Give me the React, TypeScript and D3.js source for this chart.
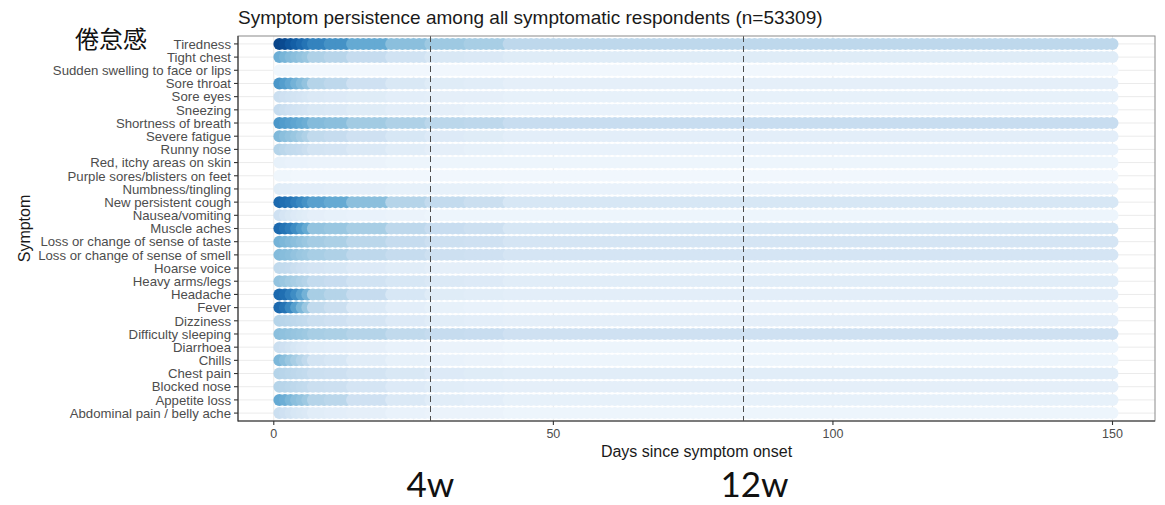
import React from "react";
import * as d3 from "d3";

// Symptoms, top to bottom as listed on the y axis
const SYMPTOMS = [
  "Tiredness",
  "Tight chest",
  "Sudden swelling to face or lips",
  "Sore throat",
  "Sore eyes",
  "Sneezing",
  "Shortness of breath",
  "Severe fatigue",
  "Runny nose",
  "Red, itchy areas on skin",
  "Purple sores/blisters on feet",
  "Numbness/tingling",
  "New persistent cough",
  "Nausea/vomiting",
  "Muscle aches",
  "Loss or change of sense of taste",
  "Loss or change of sense of smell",
  "Hoarse voice",
  "Heavy arms/legs",
  "Headache",
  "Fever",
  "Dizziness",
  "Difficulty sleeping",
  "Diarrhoea",
  "Chills",
  "Chest pain",
  "Blocked nose",
  "Appetite loss",
  "Abdominal pain / belly ache",
];

// Day on which each persistence step starts (a step holds until the next one)
const STEP_DAYS = [1, 2, 3, 4, 5, 6, 7, 10, 14, 21, 28, 35, 42];

// Share of respondents still reporting the symptom, per step, one row per symptom
const SHARE = [
  [0.92, 0.9, 0.86, 0.82, 0.78, 0.74, 0.68, 0.62, 0.52, 0.42, 0.37, 0.34, 0.27],
  [0.5, 0.47, 0.44, 0.42, 0.4, 0.38, 0.32, 0.29, 0.24, 0.19, 0.15, 0.14, 0.12],
  [0.04, 0.04, 0.04, 0.03, 0.03, 0.03, 0.03, 0.03, 0.03, 0.03, 0.03, 0.03, 0.03],
  [0.6, 0.57, 0.53, 0.48, 0.44, 0.4, 0.3, 0.27, 0.2, 0.15, 0.12, 0.11, 0.09],
  [0.22, 0.2, 0.19, 0.18, 0.17, 0.16, 0.14, 0.13, 0.12, 0.1, 0.09, 0.09, 0.08],
  [0.24, 0.22, 0.2, 0.19, 0.18, 0.17, 0.15, 0.14, 0.12, 0.1, 0.09, 0.08, 0.07],
  [0.6, 0.58, 0.56, 0.54, 0.52, 0.5, 0.44, 0.42, 0.36, 0.32, 0.28, 0.27, 0.23],
  [0.45, 0.42, 0.4, 0.38, 0.35, 0.32, 0.26, 0.24, 0.2, 0.16, 0.13, 0.12, 0.1],
  [0.3, 0.28, 0.26, 0.25, 0.24, 0.22, 0.18, 0.17, 0.14, 0.11, 0.09, 0.08, 0.07],
  [0.08, 0.08, 0.07, 0.07, 0.07, 0.07, 0.06, 0.06, 0.06, 0.05, 0.05, 0.05, 0.05],
  [0.04, 0.04, 0.04, 0.03, 0.03, 0.03, 0.03, 0.03, 0.03, 0.03, 0.03, 0.03, 0.03],
  [0.12, 0.11, 0.11, 0.1, 0.1, 0.1, 0.1, 0.09, 0.09, 0.08, 0.08, 0.08, 0.07],
  [0.78, 0.76, 0.74, 0.7, 0.66, 0.62, 0.56, 0.52, 0.42, 0.3, 0.25, 0.22, 0.16],
  [0.2, 0.17, 0.15, 0.13, 0.12, 0.11, 0.09, 0.08, 0.07, 0.06, 0.05, 0.05, 0.05],
  [0.78, 0.74, 0.7, 0.64, 0.58, 0.52, 0.4, 0.38, 0.34, 0.27, 0.23, 0.21, 0.16],
  [0.48, 0.46, 0.44, 0.42, 0.4, 0.38, 0.35, 0.33, 0.28, 0.24, 0.21, 0.2, 0.17],
  [0.44, 0.43, 0.42, 0.4, 0.38, 0.37, 0.34, 0.32, 0.27, 0.24, 0.21, 0.2, 0.17],
  [0.26, 0.25, 0.24, 0.22, 0.2, 0.19, 0.17, 0.16, 0.13, 0.11, 0.09, 0.09, 0.08],
  [0.4, 0.38, 0.36, 0.34, 0.32, 0.3, 0.25, 0.23, 0.19, 0.16, 0.14, 0.13, 0.11],
  [0.78, 0.76, 0.7, 0.64, 0.56, 0.48, 0.34, 0.3, 0.24, 0.16, 0.12, 0.11, 0.1],
  [0.78, 0.74, 0.66, 0.56, 0.46, 0.38, 0.26, 0.22, 0.14, 0.1, 0.08, 0.07, 0.06],
  [0.3, 0.29, 0.28, 0.27, 0.26, 0.25, 0.22, 0.2, 0.17, 0.13, 0.11, 0.1, 0.09],
  [0.42, 0.41, 0.4, 0.39, 0.38, 0.37, 0.34, 0.33, 0.3, 0.26, 0.24, 0.23, 0.2],
  [0.22, 0.2, 0.18, 0.16, 0.14, 0.13, 0.11, 0.1, 0.09, 0.07, 0.06, 0.06, 0.05],
  [0.46, 0.42, 0.38, 0.34, 0.3, 0.26, 0.18, 0.16, 0.11, 0.08, 0.07, 0.06, 0.05],
  [0.3, 0.29, 0.28, 0.27, 0.26, 0.25, 0.22, 0.21, 0.18, 0.15, 0.13, 0.12, 0.11],
  [0.3, 0.29, 0.28, 0.27, 0.26, 0.25, 0.22, 0.21, 0.17, 0.13, 0.11, 0.1, 0.09],
  [0.52, 0.5, 0.46, 0.42, 0.4, 0.37, 0.3, 0.28, 0.2, 0.14, 0.11, 0.1, 0.08],
  [0.22, 0.2, 0.18, 0.16, 0.15, 0.14, 0.11, 0.1, 0.09, 0.07, 0.06, 0.06, 0.05],
];

const LAST_DAY = 150;
const X_TICKS = [0, 50, 100, 150];
const X_MINOR = [25, 75, 125];
const MARKER_DAYS = [28, 84];
const MARKER_LABELS = ["4w", "12w"];

const TITLE = "Symptom persistence among all symptomatic respondents (n=53309)";
const X_TITLE = "Days since symptom onset";
const Y_TITLE = "Symptom";
const NOTE = "倦怠感";

const W = 1165;
const H = 505;
const panel = { left: 238, right: 1155, top: 36, bottom: 421 };
const SANS = "'Liberation Sans', Arial, sans-serif";
const JP = "'Noto Sans CJK JP', sans-serif";
const NOTE_LATIN = "Lato, 'Open Sans', sans-serif";

export default function App() {
  const x = d3.scaleLinear().domain([-6.4, 157.6]).range([panel.left, panel.right]);
  const y = d3
    .scalePoint<string>()
    .domain(SYMPTOMS)
    .range([panel.top, panel.bottom])
    .padding(0.6);
  const color = d3.scaleSequential(d3.interpolateBlues).domain([0, 1]);
  const days = d3.range(1, LAST_DAY + 1);
  const stepIndex = d3.bisector((d: number) => d).right;
  const r = 6;

  return (
    <svg
      width={W}
      height={H}
      style={{ position: "absolute", left: 0, top: 0, background: "#fff" }}
    >
      {/* grid */}
      <g>
        {X_MINOR.map((t) => (
          <line key={"mn" + t} x1={x(t)} x2={x(t)} y1={panel.top} y2={panel.bottom} stroke="#f3f3f3" strokeWidth={0.6} />
        ))}
        {X_TICKS.map((t) => (
          <line key={"mj" + t} x1={x(t)} x2={x(t)} y1={panel.top} y2={panel.bottom} stroke="#ebebeb" strokeWidth={1} />
        ))}
        {SYMPTOMS.map((s) => (
          <line key={"hg" + s} x1={panel.left} x2={panel.right} y1={y(s)} y2={y(s)} stroke="#ebebeb" strokeWidth={1} />
        ))}
      </g>

      {/* persistence bars: one dot per day, coloured by the share still reporting */}
      <g>
        {SYMPTOMS.map((s, i) => (
          <g key={"row" + s}>
            {days.map((d) => {
              const k = Math.max(0, stepIndex(STEP_DAYS, d) - 1);
              return <circle key={d} cx={x(d)} cy={y(s)} r={r} fill={color(SHARE[i][k])} />;
            })}
          </g>
        ))}
      </g>

      {/* 4 and 12 week markers */}
      {MARKER_DAYS.map((d) => (
        <line
          key={"mk" + d}
          x1={Math.round(x(d)) + 0.5}
          x2={Math.round(x(d)) + 0.5}
          y1={panel.top}
          y2={panel.bottom}
          stroke="#4d4d4d"
          strokeWidth={1}
          strokeDasharray="6,4"
        />
      ))}

      {/* panel frame and axes */}
      <rect
        x={panel.left}
        y={panel.top}
        width={panel.right - panel.left}
        height={panel.bottom - panel.top}
        fill="none"
        stroke="#8a8a8a"
        strokeWidth={1}
      />
      <line x1={panel.left} x2={panel.left} y1={panel.top} y2={panel.bottom + 0.5} stroke="#333" strokeWidth={1.1} />
      <line x1={panel.left} x2={panel.right} y1={panel.bottom} y2={panel.bottom} stroke="#333" strokeWidth={1.1} />

      {/* y axis */}
      {SYMPTOMS.map((s) => (
        <g key={"yl" + s}>
          <line x1={panel.left - 4} x2={panel.left} y1={y(s)} y2={y(s)} stroke="#333" strokeWidth={1.1} />
          <text
            x={panel.left - 7}
            y={y(s)}
            dy="0.36em"
            textAnchor="end"
            fontFamily={SANS}
            fontSize={13.2}
            fill="#4d4d4d"
          >
            {s}
          </text>
        </g>
      ))}

      {/* x axis */}
      {X_TICKS.map((t) => (
        <g key={"xt" + t}>
          <line x1={x(t)} x2={x(t)} y1={panel.bottom} y2={panel.bottom + 4} stroke="#333" strokeWidth={1.1} />
          <text x={x(t)} y={438} textAnchor="middle" fontFamily={SANS} fontSize={12.5} fill="#4d4d4d">
            {t}
          </text>
        </g>
      ))}

      {/* titles */}
      <text x={panel.left} y={24} fontFamily={SANS} fontSize={19} fill="#1a1a1a">
        {TITLE}
      </text>
      <text
        x={(panel.left + panel.right) / 2}
        y={456.5}
        textAnchor="middle"
        fontFamily={SANS}
        fontSize={16}
        fill="#1a1a1a"
      >
        {X_TITLE}
      </text>
      <text
        transform={`translate(29.5,${(panel.top + panel.bottom) / 2}) rotate(-90)`}
        textAnchor="middle"
        fontFamily={SANS}
        fontSize={16}
        fill="#1a1a1a"
      >
        {Y_TITLE}
      </text>

      {/* annotations */}
      <text x={75} y={48} fontFamily={JP} fontSize={24} fill="#111">
        {NOTE}
      </text>
      {MARKER_DAYS.map((d, i) => (
        <text
          key={"ml" + d}
          x={x(d) + (i === 0 ? 0 : 11)}
          y={497}
          textAnchor="middle"
          fontFamily={NOTE_LATIN}
          fontSize={35}
          fill="#111"
        >
          {MARKER_LABELS[i]}
        </text>
      ))}
    </svg>
  );
}
